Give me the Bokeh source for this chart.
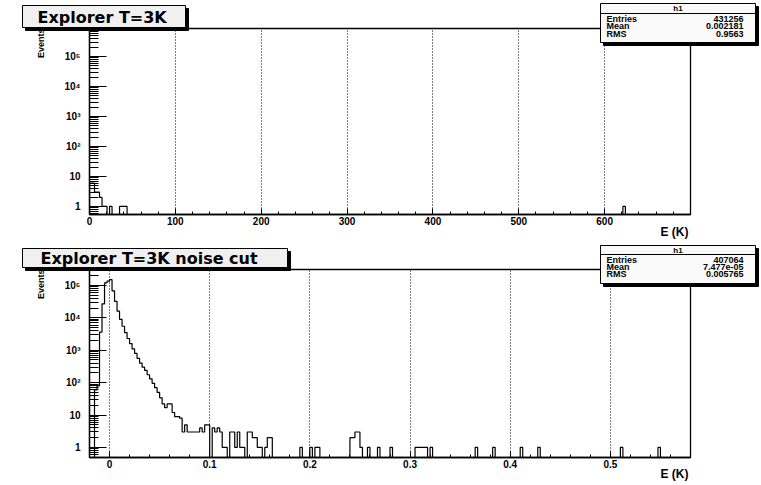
import math
from bokeh.plotting import figure
from bokeh.models import FixedTicker, Range1d
from bokeh.core.properties import value
from bokeh.layouts import column
from bokeh.embed import file_html
from bokeh.resources import INLINE

# ---------------- data ----------------
top_title = "Explorer T=3K"
cut_title = "Explorer T=3K noise cut"
stats_name = "h1"
top_stat_keys = ["Entries", "Mean", "RMS"]
top_stat_vals = ["431256", "0.002181", "0.9563"]
cut_stat_keys = ["Entries", "Mean", "RMS"]
cut_stat_vals = ["407064", "7.477e-05", "0.005765"]
x_title = "E (K)"
y_title = "Events"

# top histogram: 240 bins on [0, 700] K, non-empty bins (low edge in K, count)
top_x_min, top_x_max, top_nbins = 0.0, 700.0, 240
top_bin_lo = [0.0, 2.917, 5.833, 8.75, 11.667, 14.583, 17.5, 23.333, 35.0, 37.917, 40.833, 621.25]
top_counts = [6, 6, 3, 3, 2, 1, 1, 1, 1, 1, 1, 1]
top_xticks = [0, 100, 200, 300, 400, 500, 600]
top_xlabels = ["0", "100", "200", "300", "400", "500", "600"]
top_xminor = [20, 40, 60, 80, 120, 140, 160, 180, 220, 240, 260, 280, 320, 340, 360, 380,
              420, 440, 460, 480, 520, 540, 560, 580, 620, 640, 660, 680]
top_ylim = [0.54, 8.6e5]

# noise-cut histogram: 240 bins on [-0.02, 0.58] K
cut_x_min, cut_x_max, cut_nbins = -0.02, 0.58, 240
cut_core_counts = [0, 0, 60, 80, 3600, 27000, 120000, 135000, 150000, 68000,
                   32000, 16000, 9000, 5500, 3500, 2300, 1600, 1100, 800, 560,
                   400, 300, 240, 175, 130, 95, 70, 50, 34, 22,
                   17, 22, 22, 12, 9, 9, 8, 3, 5, 3,
                   3, 3, 3, 3, 4, 3, 5, 5, 0, 4,
                   3, 4, 3, 1, 1, 0, 3, 3, 1, 3]
cut_tail_lo = [0.13, 0.1325, 0.1375, 0.14, 0.1425, 0.145, 0.1475, 0.15, 0.155, 0.1575, 0.16,
               0.19, 0.2, 0.205, 0.2075, 0.24, 0.2425, 0.245, 0.2475, 0.25, 0.2575, 0.2675,
               0.28, 0.305, 0.3075, 0.31, 0.3125, 0.315, 0.32, 0.365, 0.3825, 0.41, 0.4275,
               0.51, 0.5475]
cut_tail_counts = [1, 1, 3, 3, 2, 2, 1, 1, 1, 2, 2,
                   1, 1, 1, 1, 2, 2, 3, 3, 1, 1, 1,
                   1, 1, 1, 1, 1, 1, 1, 1, 1, 1, 1,
                   1, 1]
cut_xticks = [0, 0.1, 0.2, 0.3, 0.4, 0.5]
cut_xlabels = ["0", "0.1", "0.2", "0.3", "0.4", "0.5"]
cut_xminor = [-0.02, 0.02, 0.04, 0.06, 0.08, 0.12, 0.14, 0.16, 0.18, 0.22, 0.24, 0.26, 0.28,
              0.32, 0.34, 0.36, 0.38, 0.42, 0.44, 0.46, 0.48, 0.52, 0.54, 0.56]
cut_ylim = [0.49, 3.1e5]

y_major = [1, 10, 100, 1000, 10000, 100000]
y_major_labels = ["1", "10", "10\u00b2", "10\u00b3", "10\u2074", "10\u2075"]

# ---------------- helpers ----------------
W, H = 761, 485
FONT = "Liberation Sans"


def full_counts(xmin, nb, width, los, cnts, core=None):
    c = [0] * nb
    if core:
        for i, v in enumerate(core):
            c[i] = v
    for lo, v in zip(los, cnts):
        c[int(round((lo - xmin) / width))] = v
    return c


def step_xy(xmin, width, counts, floor):
    xs, ys = [], []
    prev = floor
    for i, v in enumerate(counts):
        y = v if v > 0 else floor
        x0 = xmin + i * width
        xs += [x0, x0]
        ys += [prev, y]
        prev = y
    xe = xmin + len(counts) * width
    xs += [xe, xe]
    ys += [prev, floor]
    return xs, ys


def minor_logs(lo, hi):
    out = []
    for e in range(-1, 7):
        for m in range(2, 10):
            v = m * 10 ** e
            if lo <= v <= hi:
                out.append(v)
    return out


def make_panel(height, b_top, b_bottom, xr, yr, xticks, xlabels, xminor):
    p = figure(width=W, height=height, output_backend="svg", toolbar_location=None,
               x_range=Range1d(*xr), y_range=Range1d(*yr), y_axis_type="log",
               min_border_left=89, min_border_right=71,
               min_border_top=b_top, min_border_bottom=b_bottom)
    p.background_fill_color = "white"
    p.border_fill_color = "white"
    p.outline_line_color = "black"
    p.outline_line_width = 1.3
    xa = p.xaxis[0]
    ya = p.yaxis[0]
    xa.ticker = FixedTicker(ticks=xticks, minor_ticks=xminor)
    xa.major_label_overrides = {t: l for t, l in zip(xticks, xlabels)}
    ya.ticker = FixedTicker(ticks=y_major, minor_ticks=minor_logs(yr[0], yr[1]))
    ya.major_label_overrides = {t: l for t, l in zip(y_major, y_major_labels)}
    for ax in (xa, ya):
        ax.axis_line_color = "black"
        ax.axis_line_width = 1.3
        ax.major_tick_line_color = "black"
        ax.minor_tick_line_color = "black"
        ax.major_tick_out = 0
        ax.minor_tick_out = 0
        ax.major_label_text_font = FONT
        ax.major_label_text_font_style = "bold"
        ax.major_label_text_font_size = "10px"
        ax.major_label_text_color = "black"
    xa.major_tick_in = 6
    xa.minor_tick_in = 3
    xa.major_label_standoff = 2
    ya.major_tick_in = 17
    ya.minor_tick_in = 9
    ya.major_label_standoff = 9
    p.xgrid.grid_line_color = "black"
    p.xgrid.grid_line_dash = "1 2"
    p.xgrid.grid_line_width = 1
    p.ygrid.visible = False
    return p


# ---------------- top panel ----------------
top_w = (top_x_max - top_x_min) / top_nbins
top_c = full_counts(top_x_min, top_nbins, top_w, top_bin_lo, top_counts)
tx, ty = step_xy(top_x_min, top_w, top_c, top_ylim[0])
p1 = make_panel(243, 28, 29, (top_x_min, top_x_max), top_ylim, top_xticks, top_xlabels, top_xminor)
p1.line(tx, ty, line_color="black", line_width=1.2)

# ---------------- noise-cut panel ----------------
cut_w = (cut_x_max - cut_x_min) / cut_nbins
cut_c = full_counts(cut_x_min, cut_nbins, cut_w, cut_tail_lo, cut_tail_counts, cut_core_counts)
cx, cy = step_xy(cut_x_min, cut_w, cut_c, cut_ylim[0])
p2 = make_panel(242, 26, 28, (cut_x_min, cut_x_max), cut_ylim, cut_xticks, cut_xlabels, cut_xminor)
p2.line(cx, cy, line_color="black", line_width=1.2)

main = column(p1, p2, spacing=0)

# ---------------- overlay (page pixel coordinates) for ROOT-style boxes and titles -------------
ov = figure(width=W, height=H, output_backend="svg", toolbar_location=None,
            x_range=Range1d(0, W), y_range=Range1d(H, 0),
            x_axis_location=None, y_axis_location=None,
            min_border_left=0, min_border_right=0, min_border_top=0, min_border_bottom=0)
ov.outline_line_color = None
ov.background_fill_alpha = 0
ov.border_fill_alpha = 0
ov.xgrid.visible = False
ov.ygrid.visible = False
ov.styles = {"position": "absolute", "top": "0px", "left": "0px"}


def obox(x0, y0, x1, y1, fill):
    ov.quad(left=[x0], right=[x1], top=[y0], bottom=[y1], fill_color=fill,
            line_color="black", line_width=1)


def otext(s, x, y, size, align="left", angle=0.0, font=FONT):
    ov.text(x=[x], y=[y], text=[s], text_font=value(font), text_font_size=f"{size}px",
            text_font_style="bold", text_align=align, text_baseline="middle",
            angle=angle, text_color="black")


def decorate(title, tbox, ttext, skeys, svals, sbox, rows_y, hline_y, h_y, ylab_y, xlab_y):
    X0, Y0, X1, Y1 = tbox
    obox(X0 + 3, Y0 + 3, X1 + 3, Y1 + 3, "black")
    obox(X0, Y0, X1, Y1, "#f0f0f0")
    otext(title, ttext[0], ttext[1], 16, font="DejaVu Sans")
    S0, T0, S1, T1 = sbox
    obox(S0 + 3, T0 + 3, S1 + 3, T1 + 3, "black")
    obox(S0, T0, S1, T1, "#fafafa")
    ov.line([S0, S1], [hline_y, hline_y], line_color="black", line_width=1)
    otext(stats_name, (S0 + S1) / 2, h_y, 8, align="center")
    for k, v, yy in zip(skeys, svals, rows_y):
        otext(k, S0 + 6, yy, 9)
        otext(v, S1 - 12, yy, 9, align="right")
    otext(y_title, 40, ylab_y, 9, align="right", angle=math.pi / 2)
    otext(x_title, 688, xlab_y, 12, align="right")


decorate(top_title, (22, 5, 185, 27), (37, 16.5), top_stat_keys, top_stat_vals,
         (600, 3, 755, 42), (18, 25.5, 33), 13, 8.2, 28, 231)
decorate(cut_title, (22, 248, 287, 267), (40, 258), cut_stat_keys, cut_stat_vals,
         (600, 245, 755, 283), (259, 266, 273), 254, 249.5, 269, 473)

open("out.html", "w").write(file_html([main, ov], INLINE))
